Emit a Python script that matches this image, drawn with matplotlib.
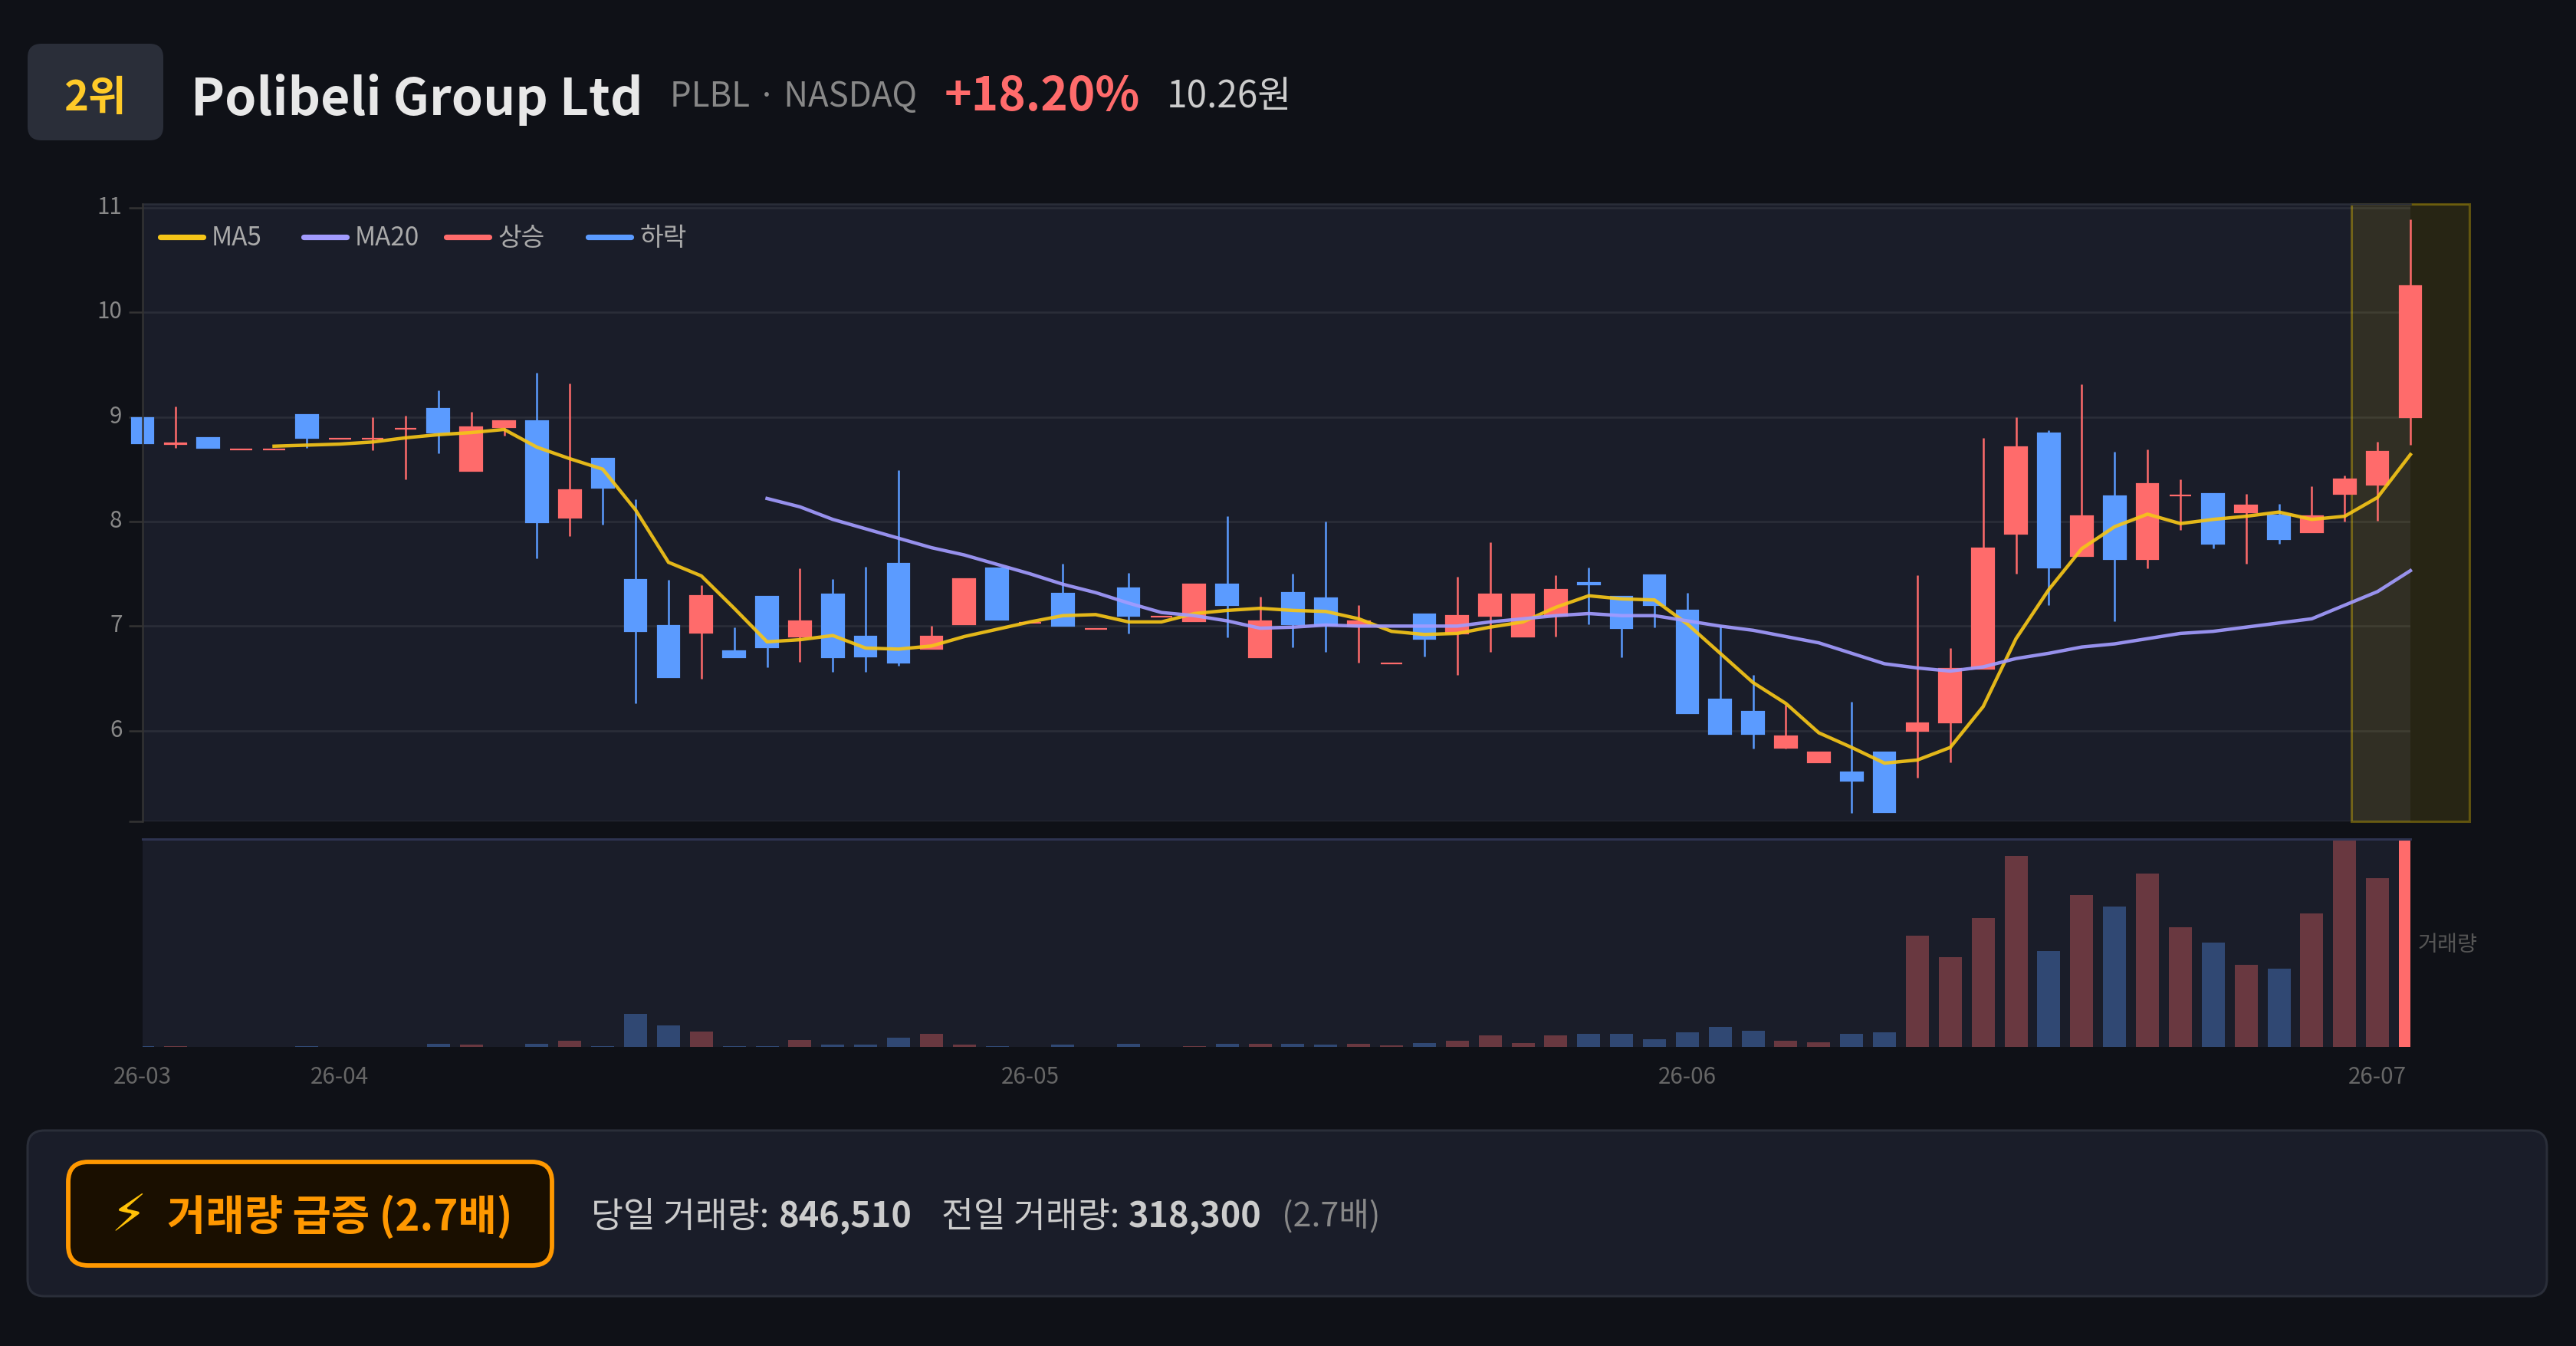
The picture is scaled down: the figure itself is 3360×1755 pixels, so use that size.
import matplotlib
matplotlib.use("Agg")
import matplotlib.pyplot as plt
from matplotlib.patches import FancyBboxPatch, Rectangle
from matplotlib.transforms import ScaledTranslation

plt.rcParams["font.family"] = ["Noto Sans CJK KR", "DejaVu Sans"]

W, H = 3360, 1755

open_ = [8.99, 8.74, 8.80, 8.69, 8.69, 9.02, 8.79, 8.79, 8.89, 9.08,
         8.48, 8.90, 8.96, 8.04, 8.60, 7.44, 7.00, 6.94, 6.76, 7.28,
         6.90, 7.30, 6.90, 7.60, 6.78, 7.02, 7.55, 7.03, 7.31, 6.97,
         7.36, 7.09, 7.05, 7.40, 6.70, 7.32, 7.27, 7.00, 6.64, 7.11,
         6.93, 7.10, 6.90, 7.10, 7.41, 7.28, 7.49, 7.15, 6.30, 6.18,
         5.84, 5.70, 5.60, 5.79, 6.00, 6.08, 6.59, 7.88, 8.84, 7.67,
         8.24, 7.64, 8.25, 8.26, 8.09, 8.06, 7.90, 8.26, 8.35, 9.00]
close = [8.75, 8.75, 8.70, 8.69, 8.69, 8.80, 8.79, 8.79, 8.89, 8.85,
         8.90, 8.96, 7.99, 8.30, 8.32, 6.95, 6.51, 7.29, 6.70, 6.80,
         7.05, 6.70, 6.71, 6.65, 6.90, 7.45, 7.06, 7.03, 7.00, 6.97,
         7.10, 7.09, 7.40, 7.20, 7.05, 7.02, 7.01, 7.05, 6.64, 6.88,
         7.10, 7.30, 7.30, 7.35, 7.40, 6.98, 7.20, 6.17, 5.97, 5.97,
         5.95, 5.79, 5.52, 5.22, 6.07, 6.59, 7.74, 8.71, 7.56, 8.05,
         7.64, 8.36, 8.25, 7.79, 8.15, 7.83, 8.05, 8.40, 8.67, 10.25]
high = [8.99, 9.10, 8.80, 8.69, 8.69, 9.02, 8.79, 9.00, 9.01, 9.25,
        9.05, 8.96, 9.42, 9.32, 8.60, 8.21, 7.44, 7.39, 6.99, 7.28,
        7.55, 7.45, 7.57, 8.49, 7.00, 7.45, 7.55, 7.03, 7.60, 6.97,
        7.51, 7.09, 7.40, 8.05, 7.28, 7.50, 8.00, 7.20, 6.64, 7.11,
        7.47, 7.80, 7.30, 7.49, 7.56, 7.28, 7.49, 7.32, 7.00, 6.53,
        6.25, 5.79, 6.28, 5.79, 7.49, 6.79, 8.80, 9.00, 8.87, 9.31,
        8.67, 8.69, 8.40, 8.26, 8.26, 8.17, 8.34, 8.44, 8.76, 10.89]
low = [8.75, 8.70, 8.70, 8.69, 8.69, 8.70, 8.79, 8.68, 8.40, 8.65,
       8.48, 8.82, 7.65, 7.86, 7.97, 6.26, 6.51, 6.50, 6.70, 6.61,
       6.66, 6.56, 6.56, 6.62, 6.78, 7.02, 7.06, 7.03, 7.00, 6.97,
       6.93, 7.09, 7.05, 6.89, 6.70, 6.80, 6.75, 6.65, 6.64, 6.71,
       6.53, 6.75, 6.90, 6.90, 7.02, 6.70, 6.99, 6.17, 5.97, 5.83,
       5.83, 5.70, 5.21, 5.22, 5.55, 5.70, 6.59, 7.50, 7.20, 7.67,
       7.05, 7.55, 7.92, 7.74, 7.60, 7.79, 7.90, 8.00, 8.01, 8.73]
volume = [1300, 1900, 650, 200, 200, 1300, 650, 650, 650, 5800,
          3900, 650, 5100, 12200, 1300, 62400, 39900, 28300, 1300, 1900,
          12900, 3900, 3900, 17400, 24500, 3900, 1300, 650, 3900, 650,
          5100, 200, 1900, 5800, 5800, 5800, 4800, 5300, 2900, 7300,
          11600, 21800, 7700, 21800, 24700, 24700, 14500, 27600, 37300, 30000,
          12100, 8700, 24700, 27600, 210000, 169300, 242900, 359500, 180500, 286900,
          264200, 326100, 225500, 196900, 154300, 147600, 251600, 395000, 318300, 846510]
ma5 = [8.72, 8.73, 8.74, 8.76, 8.80, 8.83, 8.85, 8.88, 8.71, 8.60, 8.50,
       8.11, 7.61, 7.48, 7.17, 6.85, 6.87, 6.91, 6.79, 6.78, 6.81, 6.90,
       6.97, 7.04, 7.10, 7.11, 7.04, 7.04, 7.12, 7.15, 7.17, 7.15, 7.14,
       7.07, 6.95, 6.92, 6.93, 6.99, 7.04, 7.18, 7.29, 7.26, 7.25, 7.02,
       6.74, 6.46, 6.26, 5.98, 5.84, 5.69, 5.72, 5.84, 6.23, 6.88, 7.35,
       7.74, 7.95, 8.07, 7.98, 8.02, 8.05, 8.09, 8.02, 8.05, 8.23, 8.64]
ma20 = [8.22, 8.14, 8.02, 7.93, 7.84, 7.75, 7.68, 7.59, 7.50, 7.40, 7.32,
        7.22, 7.13, 7.10, 7.05, 6.98, 6.99, 7.01, 7.00, 7.00, 7.00, 7.00,
        7.04, 7.07, 7.10, 7.12, 7.10, 7.10, 7.05, 7.00, 6.96, 6.90, 6.84,
        6.74, 6.64, 6.60, 6.57, 6.61, 6.69, 6.74, 6.80, 6.83, 6.88, 6.93,
        6.95, 6.99, 7.03, 7.07, 7.20, 7.33, 7.53]
price_ticks = [6, 7, 8, 9, 10, 11]
date_ticks = [0, 6, 27, 47, 68]
date_labels = ["26-03", "26-04", "26-05", "26-06", "26-07"]

BG = "#0f1117"
PANEL = "#1a1d29"
EDGE = "#2a2e39"
RED = "#ff6b6b"
BLUE = "#5b9bff"
YELLOW = "#f5c518"
PURPLE = "#a29bfe"
ORANGE = "#ff9800"


def px_axes(left, top, right, bottom, **kw):
    return fig.add_axes([left / W, 1 - bottom / H, (right - left) / W, (bottom - top) / H], **kw)


fig = plt.figure(figsize=(W / 200, H / 200), dpi=200, facecolor=BG)

# price panel
ymin, ymax = 5.133, 11.035
ax = px_axes(186, 266, 3144, 1071, facecolor=PANEL)
ax.set_xlim(0, 69)
ax.set_ylim(ymin, ymax)
for s in ("right", "bottom"):
    ax.spines[s].set_visible(False)
ax.spines["left"].set_color("#333333")
ax.spines["left"].set_linewidth(0.9)
ax.spines["left"].set_zorder(5)
ax.spines["top"].set_color(EDGE)
ax.spines["top"].set_linewidth(0.9)
ax.set_yticks([ymin] + price_ticks, [""] + [str(t) for t in price_ticks])
ax.tick_params(axis="y", length=6.5, width=0.9, color="#333333", labelcolor="#888888", labelsize=10.7, pad=3)
for lab in ax.get_yticklabels():
    # labels sit a little above their gridline in the reference
    lab.set_transform(lab.get_transform() + ScaledTranslation(0, 4 / 200, fig.dpi_scale_trans))
ax.set_xticks([])
ax.grid(axis="y", color="#2a2d38", linewidth=0.95, zorder=0)
ax.set_axisbelow(True)

n = len(close)
xs = list(range(n))
colors = [RED if c >= o else BLUE for o, c in zip(open_, close)]

ax.add_patch(Rectangle((n - 1 - 1.785, ymin), 3.57, ymax - ymin, facecolor="#ffd700", alpha=0.1,
                       edgecolor="none", clip_on=False, zorder=1))
ax.add_patch(Rectangle((n - 1 - 1.785, ymin), 3.57, ymax - ymin, facecolor="none", edgecolor="#ffd700",
                       alpha=0.32, linewidth=1.1, clip_on=False, zorder=1.1))

ax.vlines(xs, low, high, colors=colors, linewidth=0.9, zorder=2, clip_on=False)
bottoms = [min(o, c) for o, c in zip(open_, close)]
heights = [abs(c - o) for o, c in zip(open_, close)]
ax.bar(xs, heights, bottom=bottoms, width=0.67, color=colors, edgecolor=colors, linewidth=0.8,
       zorder=3, clip_on=False)

ax.plot(range(n - len(ma5), n), ma5, color=YELLOW, linewidth=1.6, alpha=0.92, zorder=4, clip_on=False,
        solid_joinstyle="miter")
ax.plot(range(n - len(ma20), n), ma20, color=PURPLE, linewidth=1.6, alpha=0.92, zorder=4, clip_on=False,
        solid_joinstyle="miter")

# volume panel
vol_max = 391850
vax = px_axes(186, 1094, 3144, 1365, facecolor=PANEL)
vax.set_xlim(0, 69)
vax.set_ylim(0, vol_max)
for s in ("left", "right", "bottom"):
    vax.spines[s].set_visible(False)
vax.spines["top"].set_color("#2e3350")
vax.spines["top"].set_linewidth(1.1)
vax.set_yticks([])
vax.set_xticks(date_ticks, date_labels)
vax.tick_params(axis="x", length=0, labelcolor="#666666", labelsize=10.7, pad=8.5)
vax.bar(xs[:-1], volume[:-1], width=0.7, color=colors[:-1], alpha=0.35, linewidth=0, zorder=2)
vax.bar(xs[-1:], volume[-1:], width=0.7, color=RED, linewidth=0, zorder=2)

# everything else is placed in pixel coordinates
ov = fig.add_axes([0, 0, 1, 1], zorder=5)
ov.set_xlim(0, W)
ov.set_ylim(H, 0)
ov.axis("off")
ov.patch.set_alpha(0)


def box(x0, y0, x1, y1, r, face, edge, lw):
    ov.add_patch(FancyBboxPatch((x0 + r, y0 + r), x1 - x0 - 2 * r, y1 - y0 - 2 * r,
                                boxstyle=f"round,pad={r}", facecolor=face, edgecolor=edge, linewidth=lw))


box(36, 57, 213, 183, 18, EDGE, "none", 0)
ov.text(124, 128, "2위", color="#ffca28", fontsize=19.5, fontweight="bold", ha="center", va="center")
ov.text(249, 150, "Polibeli Group Ltd", color="#e8e8e8", fontsize=23.8, fontweight="bold", va="baseline")
ov.text(874, 126, "PLBL · NASDAQ", color="#888888", fontsize=15.8, va="center")
ov.text(1232, 126, "+18.20%", color=RED, fontsize=21.7, fontweight="bold", va="center")
ov.text(1522, 126, "10.26원", color="#cccccc", fontsize=17.2, va="center")

# legend
legend_items = [("MA5", YELLOW, 206), ("MA20", PURPLE, 393), ("상승", RED, 579), ("하락", BLUE, 764)]
for label, c, x0 in legend_items:
    ov.plot([x0 + 3, x0 + 59], [309, 309], color=c, linewidth=2.6, solid_capstyle="round")
    ov.text(x0 + 70, 310, label, color="#aaaaaa", fontsize=12, va="center")

ov.text(3193, 1232, "거래량", color="#555555", fontsize=10.2, ha="center", va="center")

# footer card
box(36, 1474, 3322, 1690, 22, PANEL, EDGE, 1.1)
box(89, 1515, 720, 1650, 26, "#1a0f00", ORANGE, 2.1)
ov.text(168, 1586, "⚡", color="#ffc107", fontsize=24, ha="center", va="center")
ov.text(218, 1587, "거래량 급증 (2.7배)", color=ORANGE, fontsize=19.7, fontweight="bold", va="center")
ov.text(771, 1587, "당일 거래량:", color="#cccccc", fontsize=16.4, va="center")
ov.text(1016, 1587, "846,510", color="#cccccc", fontsize=16.2, fontweight="bold", va="center")
ov.text(1228, 1587, "전일 거래량:", color="#cccccc", fontsize=16.4, va="center")
ov.text(1472, 1587, "318,300", color="#cccccc", fontsize=16.2, fontweight="bold", va="center")
ov.text(1672, 1587, "(2.7배)", color="#888888", fontsize=15.5, va="center")

fig.savefig("out.png", dpi=200, facecolor=BG)
